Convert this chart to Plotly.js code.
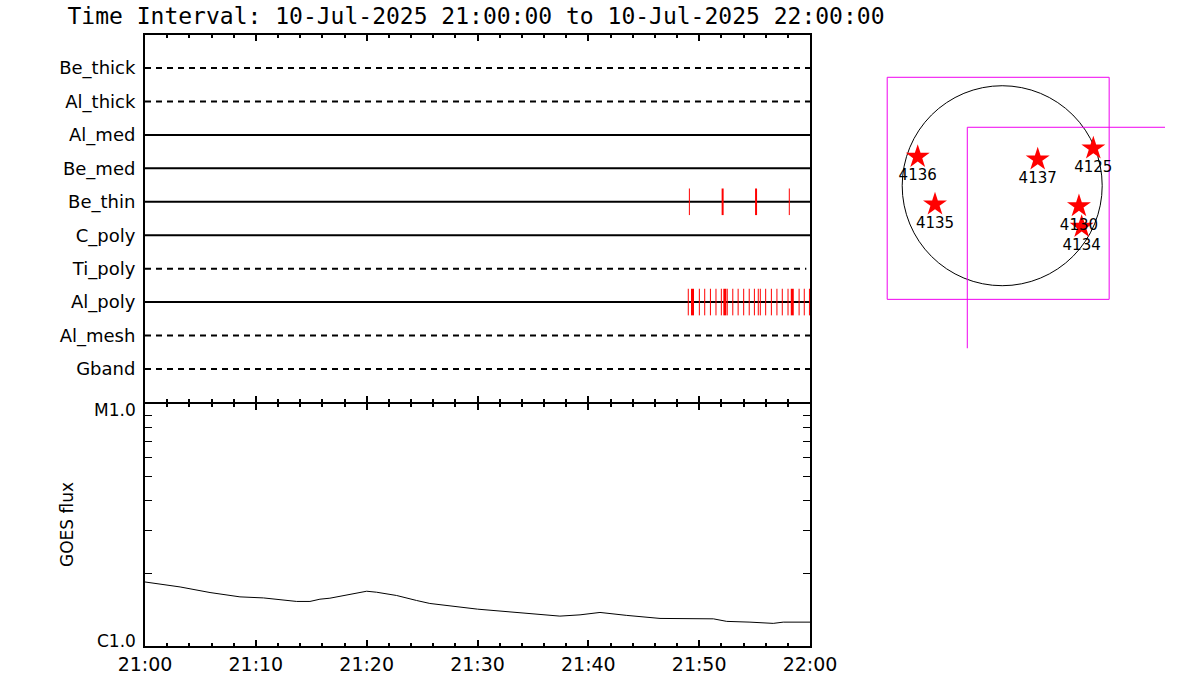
<!DOCTYPE html>
<html>
<head>
<meta charset="utf-8">
<script src="https://cdn.plot.ly/plotly-3.0.1.min.js"></script>
<style>html,body{margin:0;padding:0;background:#fff;}</style>
</head>
<body>
<div id="chart" style="width:1200px;height:700px;"></div>
<script>
// ---------- data ----------
const day = '2025-07-10 ';
const tStart = '21:00:00';
const tEnd = '22:00:00';

// filter rows, top to bottom
const filters = ['Be_thick','Al_thick','Al_med','Be_med','Be_thin','C_poly','Ti_poly','Al_poly','Al_mesh','Gband'];
const filterDash = ['dash','dash','solid','solid','solid','solid','dash','solid','dash','dash'];
const filterEnd = ['22:00:00','22:00:00','22:00:00','22:00:00','22:00:00','22:00:00','21:59:40','22:00:00','22:00:00','22:00:00'];

// image events
const beThinTimes = ['21:49:07','21:52:07','21:55:08','21:58:08'];
const beThinWidth = [1,2,2,1];
const alPolyTimes = ['21:49:01','21:49:24','21:50:01','21:50:30','21:51:01','21:51:31','21:52:00','21:52:19','21:52:32','21:53:02','21:53:31','21:54:01','21:54:31','21:54:59','21:55:20','21:55:31','21:56:00','21:56:31','21:57:01','21:57:30','21:58:01','21:58:24','21:59:01','21:59:29','21:59:57'];
const alPolyWidth = [1,3,1,1,1,1,1,3,1,1,1,1,1,1,1,1,1,1,1,1,1,3,1,1,1];

// GOES flux (W/m^2)
const goesTimes = ['21:00:00','21:03:10','21:05:52','21:08:34','21:10:41','21:13:41','21:14:53','21:15:47','21:16:41','21:18:12','21:20:00','21:20:54','21:22:42','21:24:30','21:25:42','21:30:00','21:33:00','21:35:00','21:37:26','21:39:15','21:41:03','21:43:28','21:46:28','21:51:17','21:52:29','21:54:35','21:56:41','21:57:35','22:00:00'];
const goesFlux = [1.839e-6,1.754e-6,1.663e-6,1.596e-6,1.580e-6,1.528e-6,1.528e-6,1.561e-6,1.576e-6,1.621e-6,1.684e-6,1.668e-6,1.617e-6,1.542e-6,1.499e-6,1.420e-6,1.380e-6,1.354e-6,1.329e-6,1.345e-6,1.376e-6,1.338e-6,1.300e-6,1.295e-6,1.264e-6,1.255e-6,1.240e-6,1.255e-6,1.255e-6];
const goesTickVals = [1e-6, 1e-5];
const goesTickText = ['C1.0','M1.0'];
const goesMinor = [2e-6,3e-6,4e-6,5e-6,6e-6,7e-6,8e-6,9e-6];

// solar disk map (arcsec)
const solarRadius = 960;
const arNames = ['4136','4137','4125','4135','4130','4134'];
const arX = [-811, 341, 875, -645, 737, 763];
const arY = [278, 253, 359, -179, -195, -394];
const fovX0 = [-1104, -335];
const fovX1 = [1027, 1800];
const fovY0 = [-1091, -1600];
const fovY1 = [1041, 561];

// ---------- build ----------
const T = s => day + s;
const FONT = 'DejaVu Sans';
const traces = [];

filters.forEach((f, i) => {
  traces.push({
    type: 'scatter', mode: 'lines', xaxis: 'x2', yaxis: 'y2',
    x: [T(tStart), T(filterEnd[i])], y: [f, f],
    line: {color: 'black', width: 2, dash: filterDash[i] === 'dash' ? '6px,5px' : 'solid'},
    hoverinfo: 'skip', showlegend: false
  });
});

traces.push({
  type: 'scatter', mode: 'markers', xaxis: 'x2', yaxis: 'y2',
  x: beThinTimes.map(T), y: beThinTimes.map(() => 'Be_thin'),
  marker: {symbol: 'line-ns', size: 19, color: 'red', line: {color: 'red', width: beThinWidth}},
  cliponaxis: false, showlegend: false
});
traces.push({
  type: 'scatter', mode: 'markers', xaxis: 'x2', yaxis: 'y2',
  x: alPolyTimes.map(T), y: alPolyTimes.map(() => 'Al_poly'),
  marker: {symbol: 'line-ns', size: 19, color: 'red', line: {color: 'red', width: alPolyWidth}},
  cliponaxis: false, showlegend: false
});

traces.push({
  type: 'scatter', mode: 'lines', xaxis: 'x', yaxis: 'y',
  x: goesTimes.map(T), y: goesFlux,
  line: {color: 'black', width: 1}, showlegend: false
});

fovX0.forEach((x0, i) => {
  traces.push({
    type: 'scatter', mode: 'lines', xaxis: 'x3', yaxis: 'y3',
    x: [x0, fovX1[i], fovX1[i], x0, x0],
    y: [fovY0[i], fovY0[i], fovY1[i], fovY1[i], fovY0[i]],
    line: {color: '#f000f0', width: 1}, showlegend: false, hoverinfo: 'skip'
  });
});

traces.push({
  type: 'scatter', mode: 'markers+text', xaxis: 'x3', yaxis: 'y3',
  x: arX, y: arY, text: arNames, textposition: 'bottom center',
  textfont: {family: FONT, size: 15, color: 'black'},
  marker: {symbol: 'star', size: 18, color: 'red', line: {width: 0}},
  cliponaxis: false, showlegend: false
});

const px = v => v / 1200;
const py = v => 1 - v / 700;

const dateAxisCommon = {
  type: 'date',
  range: [T(tStart), T(tEnd)],
  tick0: T(tStart), dtick: 600000,
  ticks: 'inside', ticklen: 6, tickwidth: 2, tickcolor: 'black',
  minor: {dtick: 120000, ticks: 'inside', ticklen: 3, tickwidth: 2, tickcolor: 'black'},
  showline: true, linewidth: 2, linecolor: 'black', mirror: 'ticks',
  showgrid: false, zeroline: false
};

const goesLabelShift = [5, -6];
const annotations = goesTickVals.map((v, i) => ({
  text: goesTickText[i], xref: 'paper', yref: 'y', x: px(138), y: Math.log10(v),
  xanchor: 'right', yanchor: 'middle', yshift: goesLabelShift[i], showarrow: false,
  font: {family: FONT, size: 17, color: 'black'}
}));
annotations.push({
  text: 'GOES flux', xref: 'paper', yref: 'paper',
  x: px(67), y: py(525), xanchor: 'center', yanchor: 'middle',
  textangle: -90, showarrow: false,
  font: {family: FONT, size: 17, color: 'black'}
});

const layout = {
  width: 1200, height: 700,
  margin: {l: 0, r: 0, t: 0, b: 0},
  paper_bgcolor: 'white', plot_bgcolor: 'white',
  font: {family: FONT, color: 'black'},
  title: {
    text: 'Time Interval: ' + '10-Jul-2025 ' + tStart + ' to ' + '10-Jul-2025 ' + tEnd,
    x: px(476), xanchor: 'center', y: py(16), yanchor: 'middle',
    font: {family: 'DejaVu Sans Mono', size: 23, color: 'black'}
  },
  xaxis: Object.assign({}, dateAxisCommon, {
    domain: [px(145), px(810)], anchor: 'y',
    tickformat: '%H:%M', tickfont: {family: FONT, size: 19, color: 'black'}
  }),
  yaxis: {
    domain: [py(646), py(404)], anchor: 'x',
    type: 'log', range: [-6, -5],
    tickmode: 'array', tickvals: goesTickVals, showticklabels: false,
    ticks: '',
    minor: {tickmode: 'array', tickvals: goesMinor, ticks: 'inside', ticklen: 7, tickwidth: 1, tickcolor: 'black'},
    showline: true, linewidth: 2, linecolor: 'black', mirror: 'ticks',
    showgrid: false, zeroline: false
  },
  xaxis2: Object.assign({}, dateAxisCommon, {
    domain: [px(145), px(810)], anchor: 'y2', matches: 'x',
    showticklabels: false
  }),
  yaxis2: {
    domain: [py(402), py(35)], anchor: 'x2',
    type: 'category', categoryorder: 'array', categoryarray: filters.slice().reverse(),
    range: [-0.99, 9.99],
    ticks: '', showline: true, linewidth: 2, linecolor: 'black', mirror: true,
    showgrid: false, zeroline: false, ticklabelstandoff: 4,
    tickfont: {family: FONT, size: 18, color: 'black'}
  },
  xaxis3: {
    domain: [px(870), px(1165)], anchor: 'y3',
    range: [-1269, 1563], visible: false
  },
  yaxis3: {
    domain: [py(348.3), py(60)], anchor: 'x3',
    range: [-1561, 1207], visible: false
  },
  shapes: [{
    type: 'circle', xref: 'x3', yref: 'y3',
    x0: -solarRadius, x1: solarRadius, y0: -solarRadius, y1: solarRadius,
    line: {color: 'black', width: 1}, layer: 'below'
  }],
  annotations: annotations
};

Plotly.newPlot('chart', traces, layout, {displayModeBar: false, staticPlot: true});
</script>
</body>
</html>
